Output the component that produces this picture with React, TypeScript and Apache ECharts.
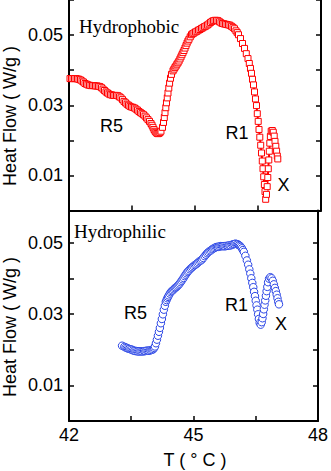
import React, { useEffect, useRef } from "react";
import * as echarts from "echarts";

// Hydrophobic (top panel): temperature (°C) and heat flow (W/g)
const hydrophobicT = [
  42.024, 42.06, 42.095, 42.131, 42.167, 42.202, 42.238, 42.274, 42.31, 42.345,
  42.381, 42.417, 42.452, 42.488, 42.524, 42.56, 42.595, 42.631, 42.667, 42.702,
  42.738, 42.774, 42.81, 42.845, 42.881, 42.917, 42.952, 42.988, 43.024, 43.06,
  43.095, 43.131, 43.167, 43.202, 43.238, 43.274, 43.31, 43.345, 43.381, 43.417,
  43.452, 43.488, 43.524, 43.56, 43.595, 43.631, 43.667, 43.702, 43.738, 43.774,
  43.81, 43.845, 43.881, 43.917, 43.952, 43.976, 44.0, 44.024, 44.048, 44.071,
  44.095, 44.119, 44.143, 44.167, 44.19,
  44.226, 44.25, 44.269, 44.286, 44.305, 44.321, 44.34, 44.357, 44.376, 44.395,
  44.417, 44.44, 44.476, 44.5, 44.524, 44.548, 44.571, 44.595, 44.619, 44.643,
  44.667, 44.69, 44.714, 44.738, 44.762, 44.786, 44.81, 44.833, 44.857, 44.887,
  44.917, 44.946, 44.976, 45.012, 45.048, 45.083, 45.119, 45.155, 45.19, 45.226,
  45.262, 45.298, 45.333, 45.369, 45.405, 45.44, 45.476, 45.512, 45.548, 45.583,
  45.619, 45.655, 45.69, 45.726, 45.762, 45.798, 45.833, 45.869, 45.905, 45.94,
  45.976, 46.006, 46.036, 46.083, 46.131, 46.179, 46.221, 46.262, 46.293, 46.321,
  46.345, 46.369, 46.393, 46.417, 46.44, 46.464, 46.483, 46.505, 46.524, 46.543,
  46.564, 46.583, 46.602, 46.619, 46.636, 46.652, 46.667, 46.683, 46.702, 46.719,
  46.733, 46.745, 46.757, 46.769, 46.781, 46.795, 46.814, 46.84, 46.864, 46.886,
  46.905, 46.924, 46.943, 46.96, 46.971,
];
const hydrophobicHF = [
  0.0376, 0.0376, 0.0376, 0.0376, 0.0376, 0.0375, 0.0374, 0.0372, 0.0369, 0.0366,
  0.0362, 0.036, 0.0358, 0.0357, 0.0356, 0.0356, 0.0356, 0.0355, 0.0355, 0.0354,
  0.0353, 0.035, 0.0346, 0.0342, 0.0338, 0.0335, 0.0332, 0.033, 0.0329, 0.0328,
  0.0328, 0.0328, 0.0327, 0.0324, 0.0321, 0.0316, 0.0311, 0.0307, 0.0303, 0.03,
  0.0297, 0.0295, 0.0294, 0.0292, 0.0289, 0.0286, 0.0282, 0.0279, 0.0276, 0.0273,
  0.0269, 0.0264, 0.0259, 0.0254, 0.0248, 0.0243, 0.0237, 0.0231, 0.0226, 0.0223,
  0.022, 0.0219, 0.022, 0.0222, 0.0226,
  0.0237, 0.0251, 0.0265, 0.0279, 0.0293, 0.0307, 0.0321, 0.0335, 0.0349, 0.0363,
  0.0377, 0.0388, 0.0398, 0.0403, 0.0408, 0.0412, 0.0417, 0.0421, 0.0426, 0.0432,
  0.0438, 0.0444, 0.045, 0.0456, 0.0463, 0.047, 0.0477, 0.0483, 0.0488, 0.0495,
  0.0501, 0.0504, 0.0506, 0.0509, 0.0511, 0.0514, 0.0516, 0.0519, 0.0521, 0.0524,
  0.0526, 0.0529, 0.0532, 0.0536, 0.0539, 0.0541, 0.0542, 0.0542, 0.0541, 0.0538,
  0.0535, 0.0533, 0.0532, 0.0531, 0.053, 0.0529, 0.0528, 0.0525, 0.0522, 0.0518,
  0.0512, 0.0507, 0.0501, 0.049, 0.0476, 0.0462, 0.0447, 0.0433, 0.0419, 0.0405,
  0.0391, 0.0374, 0.0358, 0.0338, 0.0318, 0.0299, 0.0276, 0.0254, 0.0231, 0.0209,
  0.0186, 0.0164, 0.0141, 0.0119, 0.0096, 0.0074, 0.0054, 0.0032, 0.0046, 0.0068,
  0.0094, 0.0119, 0.0144, 0.0169, 0.0192, 0.0211, 0.0226, 0.0228, 0.0223, 0.0212,
  0.0197, 0.0183, 0.0169, 0.0155, 0.0147,
];

// Hydrophilic (bottom panel)
const hydrophilicT = [
  43.279, 43.333, 43.363, 43.393, 43.422, 43.452, 43.482, 43.512, 43.541, 43.571,
  43.601, 43.631, 43.66, 43.69, 43.72, 43.75, 43.78, 43.81, 43.84, 43.869,
  43.899, 43.929, 43.958, 43.988, 44.012, 44.036, 44.054, 44.071, 44.095, 44.119,
  44.143, 44.167, 44.19, 44.214, 44.238, 44.262, 44.286, 44.31, 44.333, 44.351,
  44.369, 44.387, 44.405, 44.429, 44.452, 44.476, 44.5, 44.524, 44.548, 44.571,
  44.595, 44.619, 44.643, 44.667, 44.69, 44.714, 44.738, 44.762, 44.786, 44.81,
  44.833, 44.857, 44.881, 44.91, 44.94, 44.97, 45.0, 45.03, 45.06, 45.089,
  45.119, 45.149, 45.179, 45.208, 45.238, 45.268, 45.298, 45.327, 45.357, 45.387,
  45.417, 45.446, 45.476, 45.506, 45.536, 45.565, 45.595, 45.625, 45.655, 45.685,
  45.714, 45.744, 45.774, 45.804, 45.833, 45.863, 45.893, 45.923, 45.952, 45.982,
  46.012, 46.042, 46.071, 46.095, 46.119, 46.143, 46.167, 46.19, 46.214, 46.25,
  46.286, 46.317, 46.345, 46.369, 46.393, 46.417, 46.44, 46.46, 46.481, 46.5,
  46.519, 46.538, 46.557, 46.576, 46.595, 46.619, 46.643, 46.662, 46.679, 46.695,
  46.712, 46.729, 46.745, 46.762, 46.779, 46.798, 46.821, 46.852, 46.881, 46.91,
  46.936, 46.96, 46.983, 47.005, 47.024, 47.043, 47.06,
];
const hydrophilicHF = [
  0.0211, 0.0208, 0.0206, 0.0205, 0.0203, 0.0202, 0.0201, 0.02, 0.0198, 0.0197,
  0.0196, 0.0196, 0.0195, 0.0195, 0.0195, 0.0195, 0.0195, 0.0196, 0.0196, 0.0197,
  0.0197, 0.0197, 0.0198, 0.0199, 0.02, 0.0202, 0.0205, 0.0209, 0.0218, 0.0228,
  0.0239, 0.025, 0.0261, 0.0274, 0.0286, 0.0299, 0.0312, 0.0323, 0.0334, 0.0339,
  0.0344, 0.0348, 0.0352, 0.0357, 0.0361, 0.0364, 0.0366, 0.0369, 0.0372, 0.0374,
  0.0376, 0.0379, 0.0382, 0.0385, 0.0389, 0.0393, 0.0397, 0.0401, 0.0406, 0.041,
  0.0414, 0.0418, 0.0421, 0.0425, 0.0428, 0.0431, 0.0434, 0.0437, 0.0439, 0.0442,
  0.0445, 0.0448, 0.045, 0.0453, 0.0457, 0.0462, 0.0466, 0.047, 0.0473, 0.0476,
  0.0478, 0.0481, 0.0483, 0.0485, 0.0487, 0.0488, 0.0488, 0.0489, 0.049, 0.049,
  0.049, 0.049, 0.049, 0.0491, 0.0491, 0.0492, 0.0492, 0.0494, 0.0495, 0.0496,
  0.0497, 0.0496, 0.0495, 0.0493, 0.0491, 0.0488, 0.0484, 0.0479, 0.0474, 0.0463,
  0.045, 0.0438, 0.0425, 0.0413, 0.04, 0.0387, 0.0375, 0.0362, 0.035, 0.0337,
  0.0324, 0.0312, 0.0299, 0.0286, 0.0275, 0.027, 0.0277, 0.0288, 0.03, 0.0313,
  0.0326, 0.0338, 0.0351, 0.0364, 0.0376, 0.0389, 0.0399, 0.0403, 0.04, 0.0393,
  0.0383, 0.0373, 0.0364, 0.0354, 0.0344, 0.0334, 0.0327,
];

const xTickLabels = [42, 45, 48];
const yTickLabels = [0.01, 0.03, 0.05];
const panelTitles = ["Hydrophobic", "Hydrophilic"];
const peakLabels = ["R5", "R1", "X"];
const yTitle = "Heat Flow ( W/g )";
const xTitle = "T ( \u00B0 C )";

const zip = (a: number[], b: number[]) => a.map((v, i) => [v, b[i]]);

export default function App() {
  const ref = useRef<HTMLDivElement>(null);
  useEffect(() => {
    const chart = echarts.init(ref.current!, null, { renderer: "svg" });
    const sans = "'Liberation Sans', Arial, sans-serif";
    const serif = "'Liberation Serif', 'Times New Roman', serif";
    const axisLine = { show: true, onZero: false, lineStyle: { color: "#000", width: 2 } };
    const axisTick = { show: true, inside: true, length: 5, lineStyle: { color: "#000", width: 1.5 } };
    const yLabel = {
      show: true,
      fontSize: 18,
      fontFamily: sans,
      color: "#000",
      margin: 6,
      formatter: (v: number) =>
        yTickLabels.some((t) => Math.abs(t - v) < 1e-6) ? v.toFixed(2) : "",
    };
    const xCommon = {
      type: "value",
      min: 42,
      max: 48,
      interval: 1.5,
      splitLine: { show: false },
      axisLine,
      axisTick,
    };
    const yCommon = (gridIndex: number, max: number, position: string, labels: boolean) => ({
      type: "value",
      gridIndex,
      min: 0,
      max,
      interval: 0.01,
      position,
      splitLine: { show: false },
      axisLine,
      axisTick,
      axisLabel: labels ? yLabel : { show: false },
    });
    const txt = (text: string, x: number, y: number, font: string, align = "center") => ({
      type: "text",
      x,
      y,
      style: { text, font, fill: "#000", textAlign: align, textVerticalAlign: "middle" },
    });

    chart.setOption({
      animation: false,
      backgroundColor: "#fff",
      grid: [
        { left: 69, top: -1.5, width: 252, height: 212, containLabel: false },
        { left: 69, top: 210.5, width: 252, height: 210.5, containLabel: false },
      ],
      xAxis: [
        { ...xCommon, gridIndex: 0, position: "bottom", axisLabel: { show: false } },
        {
          ...xCommon,
          gridIndex: 1,
          position: "bottom",
          axisLabel: {
            show: true,
            showMinLabel: true,
            showMaxLabel: true,
            fontSize: 18,
            fontFamily: sans,
            color: "#000",
            margin: 5,
            formatter: (v: number) =>
              xTickLabels.some((t) => Math.abs(t - v) < 1e-6) ? String(v) : "",
          },
        },
      ],
      yAxis: [
        yCommon(0, 0.06, "left", true),
        yCommon(0, 0.06, "right", false),
        yCommon(1, 0.059, "left", true),
        yCommon(1, 0.059, "right", false),
      ],
      series: [
        {
          type: "line",
          xAxisIndex: 0,
          yAxisIndex: 0,
          data: zip(hydrophobicT, hydrophobicHF),
          symbol: "rect",
          symbolSize: 6,
          showAllSymbol: true,
          lineStyle: { color: "#ff0000", width: 2 },
          itemStyle: { color: "#ffffff", borderColor: "#ff0000", borderWidth: 1 },
          emphasis: { disabled: true },
        },
        {
          type: "line",
          xAxisIndex: 1,
          yAxisIndex: 2,
          data: zip(hydrophilicT, hydrophilicHF),
          symbol: "circle",
          symbolSize: 7.5,
          showAllSymbol: true,
          lineStyle: { width: 0, opacity: 0 },
          itemStyle: { color: "#ffffff", borderColor: "#2b46e6", borderWidth: 1 },
          emphasis: { disabled: true },
        },
      ],
      graphic: [
        txt(panelTitles[0], 79, 26, `19px ${serif}`, "left"),
        txt(panelTitles[1], 74, 231, `19px ${serif}`, "left"),
        txt(peakLabels[0], 111.5, 126, `18px ${sans}`),
        txt(peakLabels[1], 237, 133, `18px ${sans}`),
        txt(peakLabels[2], 283.5, 185, `18px ${sans}`),
        txt(peakLabels[0], 135.5, 313, `18px ${sans}`),
        txt(peakLabels[1], 236.5, 305, `18px ${sans}`),
        txt(peakLabels[2], 281, 324, `18px ${sans}`),
        txt(xTitle, 195, 460, `18px ${sans}`),
        { ...txt(yTitle, 10, 116, `18px ${sans}`), rotation: Math.PI / 2 },
        { ...txt(yTitle, 10, 327, `18px ${sans}`), rotation: Math.PI / 2 },
      ],
    });
    return () => chart.dispose();
  }, []);
  return (
    <div
      ref={ref}
      style={{ position: "absolute", left: 0, top: 0, width: 331, height: 471 }}
    />
  );
}
